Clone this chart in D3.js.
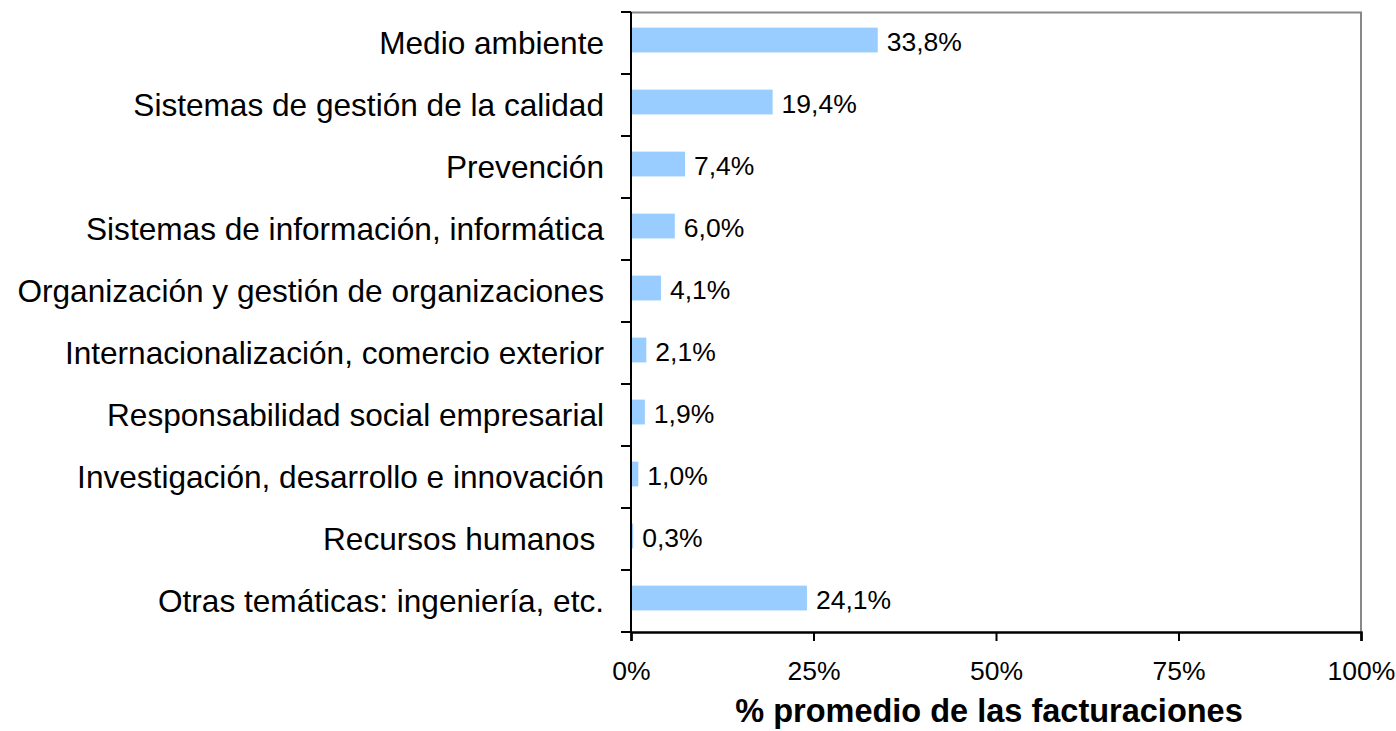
<!DOCTYPE html>
<html>
<head>
<meta charset="utf-8">
<script src="https://cdn.jsdelivr.net/npm/d3@7"></script>
<style>
  body { margin: 0; background: #fff; }
  text { font-family: "Liberation Sans", Arial, sans-serif; fill: #000; white-space: pre; }
</style>
</head>
<body>
<div id="chart"></div>
<script>
// données du graphique
const categorias = [
  "Medio ambiente",
  "Sistemas de gestión de la calidad",
  "Prevención",
  "Sistemas de información, informática",
  "Organización y gestión de organizaciones",
  "Internacionalización, comercio exterior",
  "Responsabilidad social empresarial",
  "Investigación, desarrollo e innovación",
  "Recursos humanos ",
  "Otras temáticas: ingeniería, etc."
];
const valores = [33.8, 19.4, 7.4, 6.0, 4.1, 2.1, 1.9, 1.0, 0.3, 24.1];
const ticksX = [0, 25, 50, 75, 100];
const tituloX = "% promedio de las facturaciones";

const W = 1396, H = 731;
const margin = { top: 12, right: 35, bottom: 99, left: 631 };
const width = W - margin.left - margin.right;
const height = H - margin.top - margin.bottom;

const svg = d3.select("#chart").append("svg")
  .attr("width", W).attr("height", H);

const chart = svg.append("g")
  .attr("transform", `translate(${margin.left},${margin.top})`);

const xScale = d3.scaleLinear().domain([0, 100]).range([0, width]);
const yScale = d3.scaleBand().domain(categorias).range([0, height])
  .paddingInner(0.6).paddingOuter(0.3).align(0.42);

//------cadre gris haut / droite
chart.append("path")
  .attr("d", `M0,0.5H${width}V${height}`)
  .attr("fill", "none").attr("stroke", "#888").attr("stroke-width", 2);

//------barres
chart.selectAll(".barre")
  .data(valores)
  .enter().append("rect")
  .attr("class", "barre")
  .attr("x", 0)
  .attr("y", (d, i) => yScale(categorias[i]))
  .attr("width", d => xScale(d))
  .attr("height", yScale.bandwidth())
  .attr("fill", "#99CCFF");

//------étiquettes des valeurs
chart.selectAll(".valeur")
  .data(valores)
  .enter().append("text")
  .attr("class", "valeur")
  .attr("x", d => xScale(d) + 9)
  .attr("y", (d, i) => yScale(categorias[i]) + yScale.bandwidth() / 2)
  .attr("dy", "0.4em")
  .style("font-size", "26.5px")
  .text(d => d.toFixed(1).replace(".", ",") + "%");

//------axe y (ticks aux limites des catégories)
const step = height / categorias.length;
const axeY = chart.append("g");
axeY.append("line")
  .attr("x1", 0).attr("x2", 0).attr("y1", 0).attr("y2", height)
  .attr("stroke", "#000").attr("stroke-width", 2);
axeY.selectAll(".tickY")
  .data(d3.range(categorias.length + 1))
  .enter().append("line")
  .attr("x1", -10).attr("x2", 0)
  .attr("y1", i => i * step).attr("y2", i => i * step)
  .attr("stroke", "#000").attr("stroke-width", 2);
axeY.selectAll(".labelY")
  .data(categorias, d => d)
  .enter().append("text")
  .attr("x", -27)
  .attr("y", (d, i) => (i + 0.5) * step)
  .attr("dy", "0.36em")
  .attr("text-anchor", "end")
  .style("font-size", "31.6px")
  .text(d => d);

//------axe x
const axeX = chart.append("g")
  .attr("transform", `translate(0,${height})`)
  .call(d3.axisBottom(xScale).tickValues(ticksX).tickSize(9).tickPadding(20)
    .tickFormat(d => d + "%"));
axeX.select(".domain").attr("stroke", "#000").attr("stroke-width", 2.5);
axeX.selectAll(".tick line").attr("stroke", "#000").attr("stroke-width", 2);
axeX.selectAll(".tick text")
  .style("font-size", "26.5px")
  .style("font-family", "'Liberation Sans', Arial, sans-serif")
  .attr("fill", "#000");

//------titre axe x
chart.append("text")
  .attr("x", width / 2 - 7)
  .attr("y", height + 90)
  .attr("text-anchor", "middle")
  .style("font-size", "32.5px")
  .style("font-weight", "bold")
  .text(tituloX);
</script>
</body>
</html>
